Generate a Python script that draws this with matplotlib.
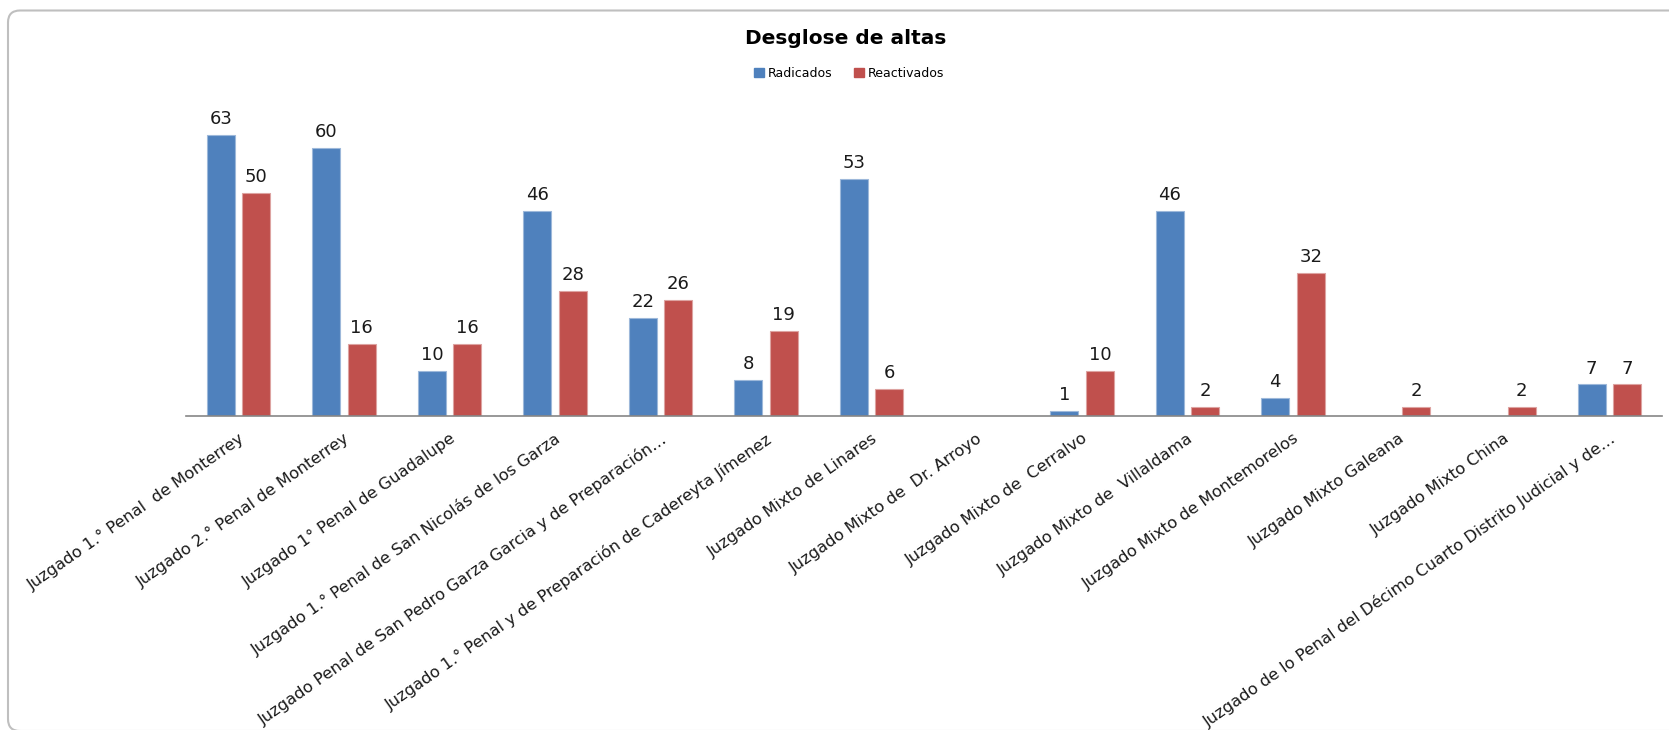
import numpy as np
import matplotlib
matplotlib.use("Agg")
import matplotlib.pyplot as plt
from matplotlib.patches import FancyBboxPatch, Patch
from matplotlib.transforms import IdentityTransform

categories = [
    "Juzgado 1.° Penal  de Monterrey",
    "Juzgado 2.° Penal de Monterrey",
    "Juzgado 1° Penal de Guadalupe",
    "Juzgado 1.° Penal de San Nicolás de los Garza",
    "Juzgado Penal de San Pedro Garza Garcia y de Preparación…",
    "Juzgado 1.° Penal y de Preparación de Cadereyta Jímenez",
    "Juzgado Mixto de Linares",
    "Juzgado Mixto de  Dr. Arroyo",
    "Juzgado Mixto de  Cerralvo",
    "Juzgado Mixto de  Villaldama",
    "Juzgado Mixto de Montemorelos",
    "Juzgado Mixto Galeana",
    "Juzgado Mixto China",
    "Juzgado de lo Penal del Décimo Cuarto Distrito Judicial y de…",
]
radicados = [63, 60, 10, 46, 22, 8, 53, None, 1, 46, 4, None, None, 7]
reactivados = [50, 16, 16, 28, 26, 19, 6, None, 10, 2, 32, 2, 2, 7]
series_names = ["Radicados", "Reactivados"]
title = "Desglose de altas"

W, H = 1669, 730
fig = plt.figure(figsize=(W / 100, H / 100), dpi=100)
fig.patch.set_facecolor("white")

# outer chart frame (rounded), partly cut by the image edges
frame = FancyBboxPatch((8, -1), 1690, 720.5, boxstyle="round,pad=0,rounding_size=12",
                       transform=IdentityTransform(), facecolor="none",
                       edgecolor="#BFBFBF", linewidth=1.5)
fig.patches.append(frame)

ax = fig.add_axes([186 / W, (H - 415.7) / H, 1476 / W, 312.2 / H])
ax.set_facecolor("none")

blue = "#4F81BD"
red = "#C0504D"
bw = 0.266
off = 0.168
x = np.arange(len(categories))

for vals, col, edge, sign in [(radicados, blue, "#9DB8DA", -1), (reactivados, red, "#DDA3A1", 1)]:
    idx = [i for i, v in enumerate(vals) if v is not None]
    h = [vals[i] for i in idx]
    xs = x[idx] + sign * off
    ax.bar(xs, h, width=bw, color=col, edgecolor=edge, linewidth=0.8, zorder=2)
    for xi, hi in zip(xs, h):
        ax.annotate(str(hi), (xi, hi), xytext=(0, 5), textcoords="offset points",
                    ha="center", va="bottom", fontsize=13, color="#1A1A1A")

ax.set_xlim(-0.5, len(categories) - 0.5)
ax.set_ylim(0, 70)
for s in ["top", "right", "left"]:
    ax.spines[s].set_visible(False)
ax.spines["bottom"].set_color("#868686")
ax.spines["bottom"].set_linewidth(1.2)
ax.set_yticks([])
ax.set_xticks(x)
ax.set_xticklabels(categories, rotation=35, ha="right", va="top",
                   rotation_mode="anchor", fontsize=11.7, color="#1A1A1A")
ax.tick_params(axis="x", length=0, pad=11)

fig.text(845.7 / W, 1 - 38.5 / H, title, ha="center", va="center",
         fontsize=14.5, fontweight="bold", color="black")

handles = [Patch(facecolor=blue, edgecolor=blue), Patch(facecolor=red, edgecolor=red)]
fig.legend(handles, series_names, loc="center", bbox_to_anchor=(849 / W, 1 - 73.5 / H),
           ncol=2, frameon=False, fontsize=9, handlelength=0.8, handleheight=0.8,
           handletextpad=0.25, columnspacing=1.8)

fig.savefig("out.png", dpi=100, facecolor="white")
